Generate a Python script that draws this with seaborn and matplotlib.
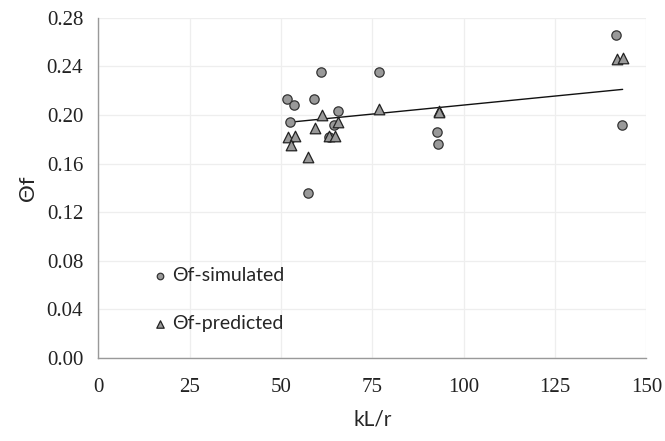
import numpy as np
import pandas as pd
import matplotlib
matplotlib.use("Agg")
import matplotlib.pyplot as plt
import seaborn as sns

# simulated values (kL/r, theta_f)
sim_x = [51.7, 53.6, 52.4, 57.5, 59.1, 60.9, 63.0, 64.4, 65.5, 76.7, 92.7, 93.0, 141.7, 143.3]
sim_y = [0.213, 0.208, 0.194, 0.136, 0.213, 0.235, 0.182, 0.192, 0.203, 0.235, 0.186, 0.176, 0.266, 0.192]

# predicted values
pred_x = [51.9, 53.8, 52.7, 57.5, 59.3, 61.2, 63.2, 64.7, 65.7, 76.9, 93.1, 93.3, 141.9, 143.5]
pred_y = [0.182, 0.183, 0.175, 0.165, 0.189, 0.200, 0.183, 0.183, 0.194, 0.205, 0.203, 0.202, 0.246, 0.247]

# linear trend line end points
trend_x = [52.4, 143.5]
trend_y = [0.194, 0.221]

x_ticks = [0, 25, 50, 75, 100, 125, 150]
y_ticks = [0.00, 0.04, 0.08, 0.12, 0.16, 0.20, 0.24, 0.28]

sim = pd.DataFrame({"x": sim_x, "y": sim_y})
pred = pd.DataFrame({"x": pred_x, "y": pred_y})

sns.set_theme(style="white")
plt.rcParams["font.family"] = ["Liberation Serif", "DejaVu Serif"]

fig, ax = plt.subplots(figsize=(6.65, 4.41), dpi=100)
fig.subplots_adjust(left=0.148, right=0.972, top=0.96, bottom=0.188)

sns.scatterplot(data=sim, x="x", y="y", ax=ax, marker="o", s=45,
                color="#999999", edgecolor="#333333", linewidth=0.9,
                label="\u0398f-simulated", zorder=3)
sns.scatterplot(data=pred, x="x", y="y", ax=ax, marker="^", s=58,
                color="#999999", edgecolor="#222222", linewidth=0.9,
                label="\u0398f-predicted", zorder=3)
sns.lineplot(x=trend_x, y=trend_y, ax=ax, color="#111111", linewidth=1.0, zorder=2)

ax.set_xlim(0, 150)
ax.set_ylim(0, 0.28)
ax.set_xticks(x_ticks)
ax.set_yticks(y_ticks)
ax.set_xticklabels([str(t) for t in x_ticks], fontsize=15, color="#222222")
ax.set_yticklabels([f"{t:.2f}" for t in y_ticks], fontsize=15, color="#222222")
ax.grid(True, color="#eeeeee", linewidth=0.9)
ax.set_axisbelow(True)

for side in ["top", "right"]:
    ax.spines[side].set_visible(False)
for side in ["left", "bottom"]:
    ax.spines[side].set_color("#999999")
    ax.spines[side].set_linewidth(1.0)
ax.tick_params(axis="x", which="major", direction="out", length=5,
               width=1.0, color="#999999", pad=9)
ax.tick_params(axis="y", which="major", direction="out", length=5,
               width=1.0, color="#999999", pad=6)

ax.set_xlabel("kL/r", fontsize=15, family=["Lato", "DejaVu Sans"], labelpad=9)
ax.set_ylabel("\u0398f", fontsize=16, family=["Lato", "DejaVu Sans"], labelpad=6)

leg = ax.legend(loc="lower left", bbox_to_anchor=(0.06, 0.024), frameon=False,
                prop={"family": ["Lato", "DejaVu Sans"], "size": 14},
                handletextpad=0.0, labelspacing=1.6, markerscale=0.7,
                handlelength=1.2)

fig.savefig("out.png", dpi=100)
